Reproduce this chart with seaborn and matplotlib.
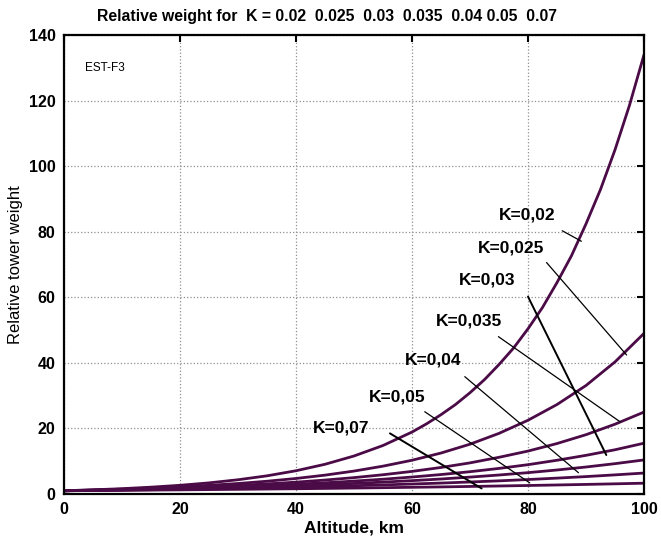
import matplotlib
matplotlib.use('Agg')
import seaborn as sns
import pandas as pd
import matplotlib.pyplot as plt

# altitude grid, km
altitude = [0, 5, 10, 15, 20, 25, 30, 35, 40, 45, 50, 55, 60, 65, 70, 75, 80, 85, 90, 95, 100]
# finer grid for the steep K=0.02 curve
altitude_k002 = [0, 5, 10, 15, 20, 25, 30, 35, 40, 45, 50, 55, 60, 62.5, 65, 67.5, 70, 72.5, 75, 77.5,
                 80, 82.5, 85, 87.5, 90, 92.5, 95, 97.5, 100]

# relative tower weight
w_k002 = [1.0, 1.28, 1.63, 2.09, 2.66, 3.40, 4.35, 5.55, 7.10, 9.07, 11.6, 14.8, 18.9, 21.4, 24.2, 27.3,
          30.9, 34.9, 39.5, 44.5, 50.4, 56.9, 64.5, 72.7, 82.4, 92.9, 105.0, 118.6, 134.0]
w_k0025 = [1.0, 1.21, 1.48, 1.79, 2.18, 2.65, 3.21, 3.90, 4.74, 5.76, 7.0, 8.50, 10.3, 12.5, 15.2, 18.5, 22.5, 27.3, 33.1, 40.3, 49.0]
w_k003 = [1.0, 1.17, 1.38, 1.62, 1.90, 2.24, 2.63, 3.09, 3.62, 4.26, 5.0, 5.88, 6.9, 8.1, 9.5, 11.2, 13.1, 15.4, 18.1, 21.3, 25.0]
w_k0035 = [1.0, 1.15, 1.32, 1.51, 1.73, 1.98, 2.28, 2.61, 2.99, 3.43, 3.94, 4.51, 5.18, 5.94, 6.81, 7.81, 8.95, 10.3, 11.8, 13.5, 15.5]
w_k004 = [1.0, 1.12, 1.26, 1.42, 1.60, 1.80, 2.02, 2.27, 2.55, 2.87, 3.22, 3.63, 4.08, 4.58, 5.16, 5.80, 6.52, 7.33, 8.24, 9.26, 10.4]
w_k005 = [1.0, 1.10, 1.20, 1.32, 1.45, 1.59, 1.75, 1.91, 2.10, 2.31, 2.53, 2.78, 3.05, 3.34, 3.67, 4.02, 4.42, 4.85, 5.32, 5.84, 6.4]
w_k007 = [1.0, 1.06, 1.13, 1.20, 1.27, 1.35, 1.43, 1.52, 1.61, 1.71, 1.82, 1.93, 2.05, 2.17, 2.31, 2.45, 2.60, 2.76, 2.93, 3.11, 3.3]

k_labels = ['K=0,02', 'K=0,025', 'K=0,03', 'K=0,035', 'K=0,04', 'K=0,05', 'K=0,07']
weights = [w_k002, w_k0025, w_k003, w_k0035, w_k004, w_k005, w_k007]
alts = [altitude_k002] + [altitude] * 6

# label text position and leader line (start, end) in data units
label_xy = [(79.8, 85), (77, 75), (73, 65.2), (69.8, 52.8), (63.7, 40.9), (57.4, 29.7), (47.8, 20)]
leader_x0 = [85.9, 83.2, 80.0, 74.9, 69.1, 62.2, 56.2]
leader_y0 = [80.3, 70.6, 60.2, 48.0, 35.8, 25.1, 18.5]
leader_x1 = [89.2, 97.0, 93.5, 95.9, 88.7, 80.3, 72.0]
leader_y1 = [77.1, 42.4, 11.9, 22.0, 6.5, 3.4, 1.7]
leader_lw = [0.9, 0.9, 1.4, 0.9, 0.9, 0.9, 1.4]

df = pd.concat([pd.DataFrame({'alt': a, 'w': w, 'K': k})
                for k, a, w in zip(k_labels, alts, weights)])

sns.set_style("white")
plt.rcParams['font.family'] = ['Liberation Sans', 'DejaVu Sans']
plt.rcParams['text.color'] = 'black'
plt.rcParams['axes.labelcolor'] = 'black'
plt.rcParams['xtick.color'] = 'black'
plt.rcParams['ytick.color'] = 'black'

fig = plt.figure(figsize=(6.61, 5.43), dpi=100)
ax = fig.add_axes([0.0968, 0.0902, 0.8775, 0.8453])

sns.lineplot(data=df, x='alt', y='w', hue='K', palette=['#4b0b47'] * 7,
             linewidth=2, legend=False, ax=ax)

for i in range(len(k_labels)):
    ax.plot([leader_x0[i], leader_x1[i]], [leader_y0[i], leader_y1[i]],
            color='black', linewidth=leader_lw[i])
    ax.text(label_xy[i][0], label_xy[i][1], k_labels[i], ha='center', va='center',
            fontsize=12.5, fontweight='bold')

ax.text(3.6, 130, 'EST-F3', fontsize=8.5, va='center', ha='left')

ax.set_xlim(0, 100)
ax.set_ylim(0, 140)
ax.set_xticks(range(0, 101, 20))
ax.set_yticks(range(0, 141, 20))
ax.grid(True, linestyle=':', color='#909090', linewidth=0.9)
ax.tick_params(direction='in', length=5, width=1.5, top=True, right=True,
               labelsize=11.5, pad=6)
for lbl in ax.get_xticklabels() + ax.get_yticklabels():
    lbl.set_fontweight('bold')
for s in ax.spines.values():
    s.set_linewidth(1.6)
    s.set_color('black')

ax.set_xlabel('Altitude, km', fontsize=12.5, fontweight='bold', labelpad=2)
ax.set_ylabel('Relative tower weight', fontsize=12, labelpad=4)
fig.text(0.495, 0.970, 'Relative weight for  K = 0.02  0.025  0.03  0.035  0.04 0.05  0.07',
         ha='center', va='center', fontsize=11.3, fontweight='bold')

plt.savefig('out.png', dpi=100)
